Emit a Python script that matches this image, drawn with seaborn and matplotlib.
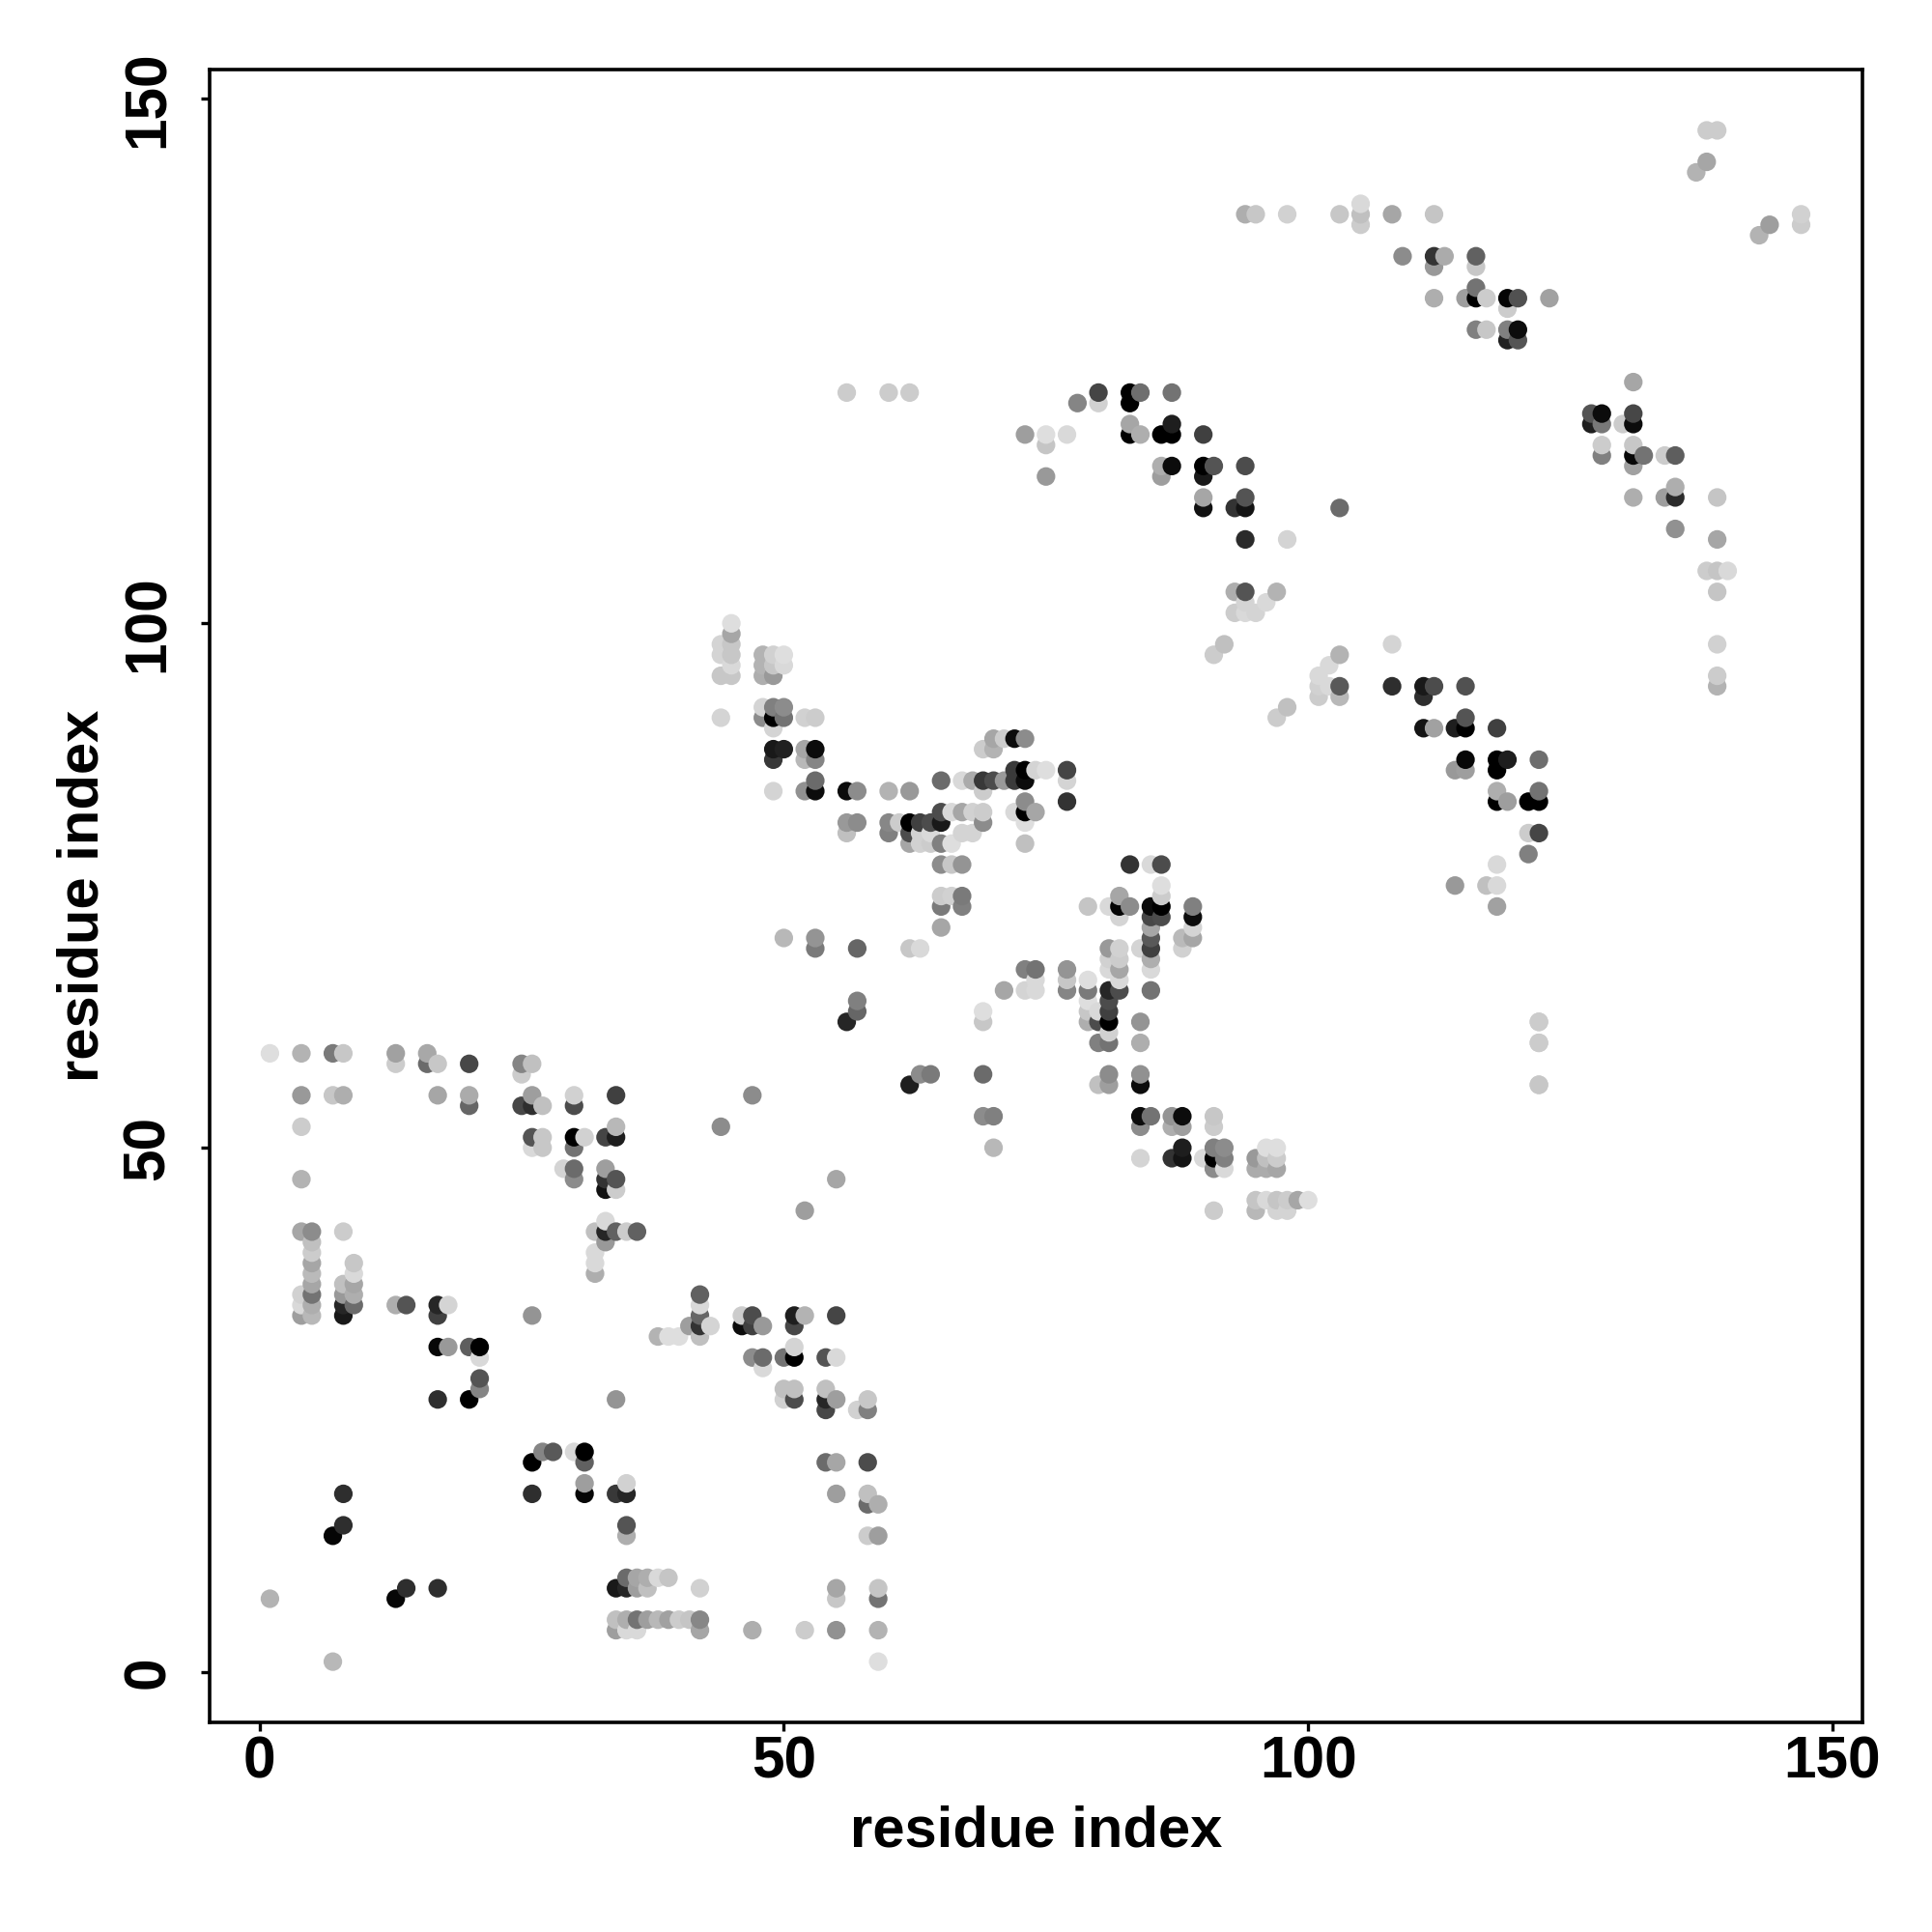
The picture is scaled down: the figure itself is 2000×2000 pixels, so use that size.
import matplotlib
matplotlib.use('Agg')
import matplotlib.pyplot as plt
import seaborn as sns
import pandas as pd

# contacts, grouped by neighbourhood.
# shade: 0 = black, 1 = white
residue_i = [
    1, 4, 7, 8, 13, 13, 16, 16, 17, 20, 25, 25, 26,
    4, 7, 8, 17, 20, 20, 25, 26, 26, 27, 30, 30, 34,
    4, 26, 27, 26, 27, 30, 31, 30, 33, 34, 34, 29, 30, 30, 33, 33, 33, 34, 34, 4,
    4, 5, 8, 32, 33, 33, 33, 34, 35, 36, 32, 32, 32,
    5, 5, 5, 5, 5, 5, 5, 5, 4, 4, 4,
    8, 8, 8, 8, 9, 9, 9, 9, 9, 13, 14, 17, 17, 18, 26,
    17, 18, 20, 21, 21, 21, 21, 17, 20, 34,
    27, 28, 30, 31, 26, 31, 31, 31, 8, 26, 34, 35, 35, 8, 35, 7, 35,
    14, 17, 34, 35, 35, 36, 36, 37, 37, 38, 39, 1, 13, 7,
    42, 42, 42, 42, 42, 41, 43, 38, 39, 40,
    46, 46, 47, 47, 48, 51, 51, 52, 55, 47, 48, 48, 50, 51, 51, 54, 55,
    50, 51, 50, 51, 54, 54, 54, 55, 57, 58, 58,
    54, 55, 58, 55, 58, 58, 59, 58, 59,
    42, 55, 55, 59, 59,
    34, 35, 36, 37, 38, 39, 40, 41, 42,
    34, 35, 36, 42, 47, 52, 55, 59, 59,
    45, 45, 44, 45, 44, 45, 45, 44, 45,
    48, 48, 48, 49, 49, 49, 50, 50,
    44, 48, 48, 49, 49, 49, 50, 50, 52, 53,
    49, 50, 49, 52, 52, 53, 53,
    53, 53, 52, 49, 56, 57, 60, 62,
    65, 67, 68, 69, 69, 70, 71, 72, 72, 73, 73, 74, 75, 77, 77, 77,
    70, 71, 72, 73, 69, 70,
    56, 57, 56, 60, 60, 61, 62, 62, 63, 64, 65, 65, 66, 67, 67, 68, 68, 69, 69,
    62, 63, 63, 64, 64, 65, 66, 65, 66, 67,
    65, 65, 66, 67, 67, 65,
    50, 53, 53, 57, 62, 63,
    72, 73, 74, 73, 73, 73,
    56, 57, 57, 55, 52, 47, 44, 62, 63, 64,
    83, 85, 86, 79, 81, 82, 82, 82, 83,
    85, 85, 85, 85, 85, 85, 85, 85,
    86, 86, 86, 86, 89, 89, 89, 89, 88, 88, 84,
    81, 81, 81, 82, 82, 82, 82, 82,
    81, 81, 81, 81, 81, 81, 79, 79, 79, 79, 79, 80, 80, 80,
    84, 84, 71, 73, 74, 73, 74, 74, 77, 77, 77, 69, 69,
    69, 69, 70, 70, 81, 81, 80, 84, 84,
    84, 85, 87, 88, 87, 88, 84, 91, 91, 84,
    87, 88, 88, 90, 91, 91, 91, 92, 92, 92,
    95, 95, 96, 96, 96, 97, 97, 97,
    95, 96, 97, 98, 99, 100, 95, 97, 98, 91,
    78, 80, 80, 83, 83, 84, 87,
    73, 75, 75, 77, 83, 83, 84, 86, 87, 87, 90,
    75, 86, 86, 87, 90, 90, 91, 94,
    90, 90, 93, 94, 94, 103, 94, 98,
    93, 94, 97, 93, 94, 94, 95, 96,
    91, 92, 97, 98, 101, 102, 103, 101, 102, 101, 103, 103,
    108, 108, 111, 111, 112, 115, 111, 112, 114, 115, 115, 118,
    115, 114, 115, 118, 118, 119, 122, 118, 118, 119, 121, 122, 122,
    121, 122, 121, 118, 114, 117, 118, 118, 122, 122, 122,
    94, 95, 98, 103, 105, 105, 105, 108, 112,
    109, 112, 112, 113, 116, 116,
    112, 115, 116, 116, 117, 119, 119, 120, 123,
    116, 117, 119, 119, 120, 120,
    131, 127, 127, 128, 128, 130, 131, 131, 128, 128,
    131, 131, 131, 132, 134, 135, 131, 134, 135, 135, 135,
    139, 139, 138, 139, 140, 139, 139, 139, 139,
    138, 139, 138, 137, 143, 144, 147, 147,
    56, 60, 62, 122, 122, 122,
]
residue_j = [
    59, 59, 59, 59, 59, 58, 59, 58, 58, 58, 58, 57, 58,
    55, 55, 55, 55, 55, 54, 54, 54, 55, 54, 55, 54, 55,
    52, 51, 51, 50, 50, 51, 51, 50, 51, 51, 52, 48, 48, 47, 48, 47, 46, 47, 46, 47,
    42, 42, 42, 42, 43, 42, 41, 42, 42, 42, 40, 39, 38,
    41, 40, 39, 38, 37, 36, 35, 34, 36, 35, 34,
    37, 36, 35, 34, 39, 38, 37, 36, 35, 35, 35, 35, 34, 35, 34,
    31, 31, 31, 31, 30, 28, 27, 26, 26, 26,
    21, 21, 21, 21, 20, 20, 18, 17, 17, 17, 17, 18, 17, 14, 14, 13, 13,
    8, 8, 8, 8, 9, 9, 8, 9, 8, 9, 9, 7, 7, 1,
    36, 35, 34, 33, 32, 33, 33, 32, 32, 32,
    34, 33, 34, 33, 33, 34, 33, 34, 34, 30, 30, 29, 30, 31, 30, 30, 30,
    27, 27, 26, 26, 27, 26, 25, 26, 25, 26, 25,
    20, 20, 20, 17, 17, 16, 16, 13, 13,
    8, 8, 7, 8, 7,
    5, 5, 5, 5, 5, 5, 5, 5, 5,
    4, 4, 4, 4, 4, 4, 4, 4, 1,
    100, 99, 98, 98, 97, 97, 96, 95, 95,
    97, 96, 95, 97, 96, 95, 97, 96,
    91, 92, 91, 92, 91, 90, 92, 91, 91, 91,
    88, 88, 87, 88, 87, 88, 87,
    85, 84, 84, 84, 84, 84, 84, 84,
    85, 85, 85, 84, 85, 85, 85, 86, 85, 86, 85, 86, 86, 86, 85, 83,
    89, 89, 89, 89, 88, 88,
    81, 81, 80, 81, 80, 81, 81, 80, 81, 81, 82, 81, 82, 82, 80, 82, 80, 82, 81,
    79, 80, 79, 80, 79, 79, 79, 77, 77, 77,
    74, 73, 74, 74, 73, 71,
    70, 70, 69, 69, 69, 69,
    82, 82, 82, 83, 81, 79,
    62, 63, 64, 47, 44, 55, 52, 56, 57, 57,
    77, 77, 77, 73, 73, 74, 73, 72, 73,
    73, 72, 71, 70, 69, 68, 67, 65,
    75, 74, 73, 72, 73, 72, 71, 70, 70, 69, 69,
    69, 68, 67, 69, 68, 67, 66, 65,
    65, 64, 63, 62, 61, 60, 66, 65, 64, 63, 62, 63, 62, 60,
    62, 60, 65, 67, 67, 65, 66, 65, 67, 66, 65, 63, 62,
    57, 53, 53, 50, 57, 56, 56, 57, 56,
    53, 53, 53, 53, 52, 52, 52, 53, 52, 49,
    49, 50, 49, 49, 50, 49, 48, 50, 49, 48,
    49, 48, 50, 49, 48, 50, 49, 48,
    45, 45, 45, 45, 45, 45, 44, 44, 44, 44,
    121, 122, 121, 122, 121, 122, 122,
    118, 118, 117, 118, 119, 118, 118, 118, 119, 118, 118,
    114, 115, 114, 115, 115, 114, 115, 115,
    112, 111, 111, 112, 111, 111, 108, 108,
    103, 103, 103, 101, 102, 101, 101, 102,
    97, 98, 91, 92, 95, 96, 97, 94, 94, 93, 94, 93,
    98, 94, 94, 93, 94, 94, 90, 90, 90, 91, 90, 90,
    87, 86, 86, 87, 86, 87, 87, 84, 83, 83, 83, 84, 83,
    80, 80, 78, 77, 75, 75, 75, 73, 62, 60, 56,
    139, 139, 139, 139, 140, 139, 138, 139, 139,
    135, 135, 134, 135, 135, 134,
    131, 131, 132, 131, 131, 131, 130, 131, 131,
    128, 128, 128, 127, 128, 127,
    123, 120, 119, 120, 119, 119, 120, 119, 117, 116,
    117, 116, 115, 116, 116, 116, 112, 112, 113, 112, 109,
    112, 108, 105, 105, 105, 103, 98, 95, 94,
    147, 147, 144, 143, 137, 138, 139, 138,
    122, 122, 122, 62, 60, 56,
]
shade = [
    .87, .70, .48, .78, .63, .80, .66, .42, .78, .28, .52, .80, .75,
    .60, .78, .68, .65, .67, .40, .28, .18, .62, .75, .82, .30, .25,
    .80, .33, .78, .85, .78, .00, .82, .45, .27, .12, .72, .83, .42, .55, .62, .20, .07, .33, .80, .70,
    .65, .55, .80, .75, .85, .15, .60, .38, .80, .38, .85, .85, .68,
    .75, .80, .65, .73, .65, .45, .68, .72, .82, .85, .62,
    .75, .60, .15, .10, .78, .85, .65, .68, .42, .68, .33, .15, .25, .83, .58,
    .03, .60, .37, .00, .85, .33, .52, .18, .00, .58,
    .52, .35, .85, .00, .00, .38, .62, .03, .18, .18, .22, .82, .15, .18, .33, .02, .68,
    .18, .18, .10, .15, .42, .65, .62, .68, .75, .85, .77, .70, .03, .72,
    .38, .85, .40, .20, .75, .62, .83, .70, .87, .87,
    .80, .05, .30, .25, .60, .12, .28, .70, .27, .55, .42, .85, .45, .83, .00, .33, .85,
    .75, .75, .82, .30, .75, .15, .28, .62, .82, .78, .50,
    .42, .65, .30, .62, .75, .42, .68, .80, .62,
    .82, .65, .78, .77, .45,
    .75, .68, .45, .62, .72, .63, .80, .77, .53,
    .62, .85, .85, .65, .68, .80, .57, .70, .87,
    .87, .65, .83, .78, .83, .78, .85, .78, .78,
    .70, .70, .68, .82, .78, .60, .87, .85,
    .83, .83, .55, .50, .00, .83, .55, .45, .82, .80,
    .10, .13, .22, .65, .72, .05, .52,
    .42, .05, .57, .83, .05, .55, .70, .60,
    .42, .85, .67, .80, .22, .30, .60, .23, .23, .00, .05, .83, .87, .27, .83, .20,
    .65, .80, .05, .55, .80, .70,
    .60, .55, .75, .53, .50, .80, .00, .30, .25, .30, .30, .10, .85, .65, .83, .82, .83, .80, .55,
    .65, .82, .82, .85, .80, .50, .87, .55, .78, .58,
    .80, .48, .82, .48, .50, .65,
    .72, .58, .48, .40, .78, .85,
    .85, .00, .65, .55, .87, .75,
    .15, .40, .50, .65, .62, .55, .55, .12, .55, .48,
    .20, .85, .30, .77, .85, .65, .02, .83, .55,
    .05, .28, .65, .35, .25, .68, .85, .45,
    .87, .80, .00, .30, .50, .05, .83, .65, .73, .82, .83,
    .60, .82, .85, .82, .80, .65, .85, .30,
    .15, .30, .25, .00, .82, .45, .87, .48, .87, .78, .68, .85, .30, .50,
    .58, .68, .65, .50, .45, .83, .85, .85, .58, .78, .52, .87, .78,
    .42, .55, .50, .72, .55, .62, .75, .57, .05,
    .05, .45, .58, .05, .68, .62, .55, .78, .80, .83,
    .20, .12, .08, .85, .50, .00, .55, .55, .50, .85,
    .60, .67, .87, .75, .67, .87, .80, .65,
    .77, .85, .77, .80, .65, .87, .72, .83, .83, .80,
    .52, .27, .82, .00, .00, .43, .45,
    .62, .87, .77, .85, .65, .00, .68, .00, .12, .00, .25,
    .60, .68, .62, .05, .00, .10, .33, .30,
    .65, .07, .20, .33, .08, .42, .17, .83,
    .68, .33, .70, .80, .83, .85, .83, .85,
    .80, .75, .80, .75, .85, .85, .70, .82, .85, .80, .35, .72,
    .83, .18, .10, .18, .30, .32, .08, .63, .12, .33, .00, .25,
    .03, .60, .62, .00, .00, .12, .43, .68, .00, .62, .00, .45, .00,
    .80, .27, .50, .85, .60, .75, .85, .63, .80, .80, .78,
    .68, .78, .82, .78, .85, .75, .80, .65, .77,
    .55, .20, .60, .67, .38, .78,
    .68, .62, .45, .00, .80, .02, .80, .32, .63,
    .50, .78, .50, .13, .05, .33,
    .65, .33, .12, .05, .47, .80, .28, .05, .80, .50,
    .78, .03, .63, .45, .80, .37, .68, .62, .68, .17, .57,
    .77, .65, .80, .77, .85, .77, .82, .80, .70,
    .80, .80, .65, .70, .70, .62, .82, .80,
    .80, .80, .80, .80, .80, .78,
]
axis_ticks = [0, 50, 100, 150]
axis_label = 'residue index'

contacts = pd.DataFrame({'i': residue_i, 'j': residue_j, 'shade': shade})
# later residues sit on top of earlier ones
contacts = contacts.sort_values(['i', 'j'], kind='stable')

sns.set_style('white')
plt.rcParams['font.family'] = ['Liberation Sans', 'DejaVu Sans']
plt.rcParams['font.weight'] = 'bold'

fig = plt.figure(figsize=(10, 10), dpi=200)
ax = fig.add_axes([217 / 2000, 217 / 2000, 1711 / 2000, 1711 / 2000])

sns.scatterplot(data=contacts, x='i', y='j', hue='shade', palette='gray',
                hue_norm=(0, 1), s=48, linewidth=0, legend=False, ax=ax)

ax.set_xlim(-4.75, 152.85)
ax.set_ylim(-4.79, 152.8)
ax.set_xticks(axis_ticks)
ax.set_yticks(axis_ticks)
ax.tick_params(axis='both', length=3.2, width=1.2, color='black', labelsize=21.8,
               labelcolor='black', left=True, bottom=True)
ax.tick_params(axis='x', pad=1.5)
ax.tick_params(axis='y', pad=9)
for label in ax.get_yticklabels():
    label.set_rotation(90)
    label.set_va('center')

ax.set_xlabel(axis_label, fontsize=21.5, fontweight='bold', color='black')
ax.set_ylabel(axis_label, fontsize=21.5, fontweight='bold', color='black')
ax.xaxis.set_label_coords(0.5, -0.05)
ax.yaxis.set_label_coords(-0.0606, 0.5)

for spine in ax.spines.values():
    spine.set_visible(True)
    spine.set_color('black')
    spine.set_linewidth(1.3)

fig.savefig('out.png', dpi=200, facecolor='white')
